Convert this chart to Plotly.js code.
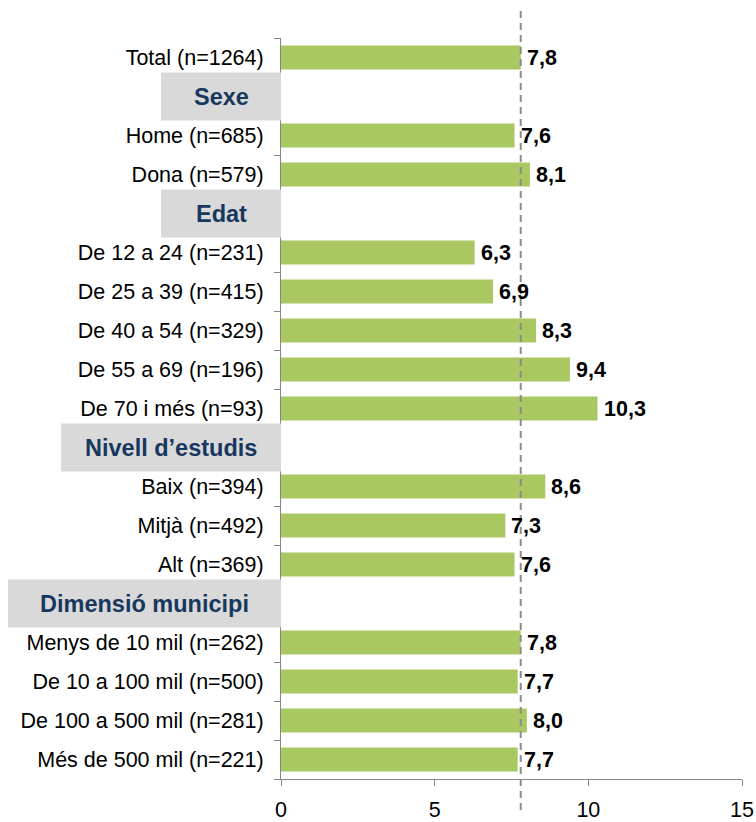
<!DOCTYPE html>
<html>
<head>
<meta charset="utf-8">
<script src="https://cdn.plot.ly/plotly-3.0.1.min.js"></script>
<style>html,body{margin:0;padding:0;background:#fff;}#chart{width:756px;height:822px;}</style>
</head>
<body>
<div id="chart"></div>
<script>
// ---- data ----
const totalLabel = "Total (n=1264)";
const totalValue = 7.8;
const groupNames = ["Sexe", "Edat", "Nivell d’estudis", "Dimensió municipi"];
const sexeLabels = ["Home (n=685)", "Dona (n=579)"];
const sexeValues = [7.6, 8.1];
const edatLabels = ["De 12 a 24 (n=231)", "De 25 a 39 (n=415)", "De 40 a 54 (n=329)", "De 55 a 69 (n=196)", "De 70 i més (n=93)"];
const edatValues = [6.3, 6.9, 8.3, 9.4, 10.3];
const estudisLabels = ["Baix (n=394)", "Mitjà (n=492)", "Alt (n=369)"];
const estudisValues = [8.6, 7.3, 7.6];
const municipiLabels = ["Menys de 10 mil (n=262)", "De 10 a 100 mil (n=500)", "De 100 a 500 mil (n=281)", "Més de 500 mil (n=221)"];
const municipiValues = [7.8, 7.7, 8.0, 7.7];
const xTicks = [0, 5, 10, 15];

// ---- styles ----
const headerBoxWidths = [120, 120, 220, 273];
const barColor = "#A9C862";
const axisColor = "#868686";
const FONT = "Liberation Sans, Arial, sans-serif";

// ---- build rows ----
const groupLabels = [sexeLabels, edatLabels, estudisLabels, municipiLabels];
const groupValues = [sexeValues, edatValues, estudisValues, municipiValues];
const cats = [totalLabel], vals = [totalValue], tickText = [totalLabel];
groupNames.forEach((g, i) => {
  cats.push(g); vals.push(null); tickText.push("");
  groupLabels[i].forEach((l, j) => { cats.push(l); vals.push(groupValues[i][j]); tickText.push(l); });
});
const n = cats.length;

const trace = {
  type: "bar", orientation: "h",
  x: vals, y: cats,
  marker: {color: barColor},
  hoverinfo: "none"
};

const shapes = [];
const annotations = [];
groupNames.forEach((g, i) => {
  const idx = cats.indexOf(g);
  shapes.push({
    type: "rect", layer: "above", xref: "paper", yref: "y",
    xsizemode: "pixel", xanchor: 0, x0: -headerBoxWidths[i], x1: 0,
    ysizemode: "pixel", yanchor: idx, y0: -24, y1: 24,
    fillcolor: "#D9D9D9", line: {width: 0}
  });
  annotations.push({
    xref: "paper", yref: "y", x: 0, y: g, xshift: -headerBoxWidths[i] / 2,
    text: "<b>" + g + "</b>", showarrow: false, xanchor: "center", yanchor: "middle",
    font: {family: FONT, size: 23.5, color: "#17375E"}
  });
});
cats.forEach((c, k) => {
  if (vals[k] === null) return;
  annotations.push({
    xref: "x", yref: "y", x: vals[k], y: c, xshift: 4,
    text: "<b>" + vals[k].toFixed(1).replace(".", ",") + "</b>",
    showarrow: false, xanchor: "left", yanchor: "middle",
    font: {family: FONT, size: 21.5, color: "#000"}
  });
});
// dashed reference line at total
shapes.push({
  type: "line", layer: "above", xref: "x", yref: "paper",
  x0: totalValue, x1: totalValue, y0: -0.042, y1: 1.038,
  line: {color: "#8C8C8C", width: 2, dash: "7px,5px"}
});

const layout = {
  width: 756, height: 822,
  margin: {l: 281, r: 14, t: 38, b: 43},
  paper_bgcolor: "#fff", plot_bgcolor: "#fff",
  showlegend: false,
  bargap: 0.385,
  font: {family: FONT, size: 21.5, color: "#000"},
  xaxis: {
    range: [0, 15], tickvals: xTicks, ticktext: xTicks.map(String),
    showgrid: false, zeroline: false,
    showline: true, linecolor: axisColor, linewidth: 1,
    ticks: "outside", ticklen: 6, tickcolor: axisColor,
    tickfont: {size: 21.5, color: "#000"}, ticklabelstandoff: 5
  },
  yaxis: {
    type: "category", range: [n - 0.5, -0.5],
    categoryorder: "array", categoryarray: cats,
    tickvals: cats, ticktext: tickText,
    showgrid: false, zeroline: false,
    showline: true, linecolor: axisColor, linewidth: 1,
    ticks: "outside", ticklen: 6, tickcolor: axisColor, tickson: "boundaries",
    tickfont: {size: 21.5, color: "#000"}, ticklabelstandoff: 12
  },
  shapes: shapes,
  annotations: annotations
};

Plotly.newPlot("chart", [trace], layout, {displayModeBar: false, staticPlot: true});
</script>
</body>
</html>
